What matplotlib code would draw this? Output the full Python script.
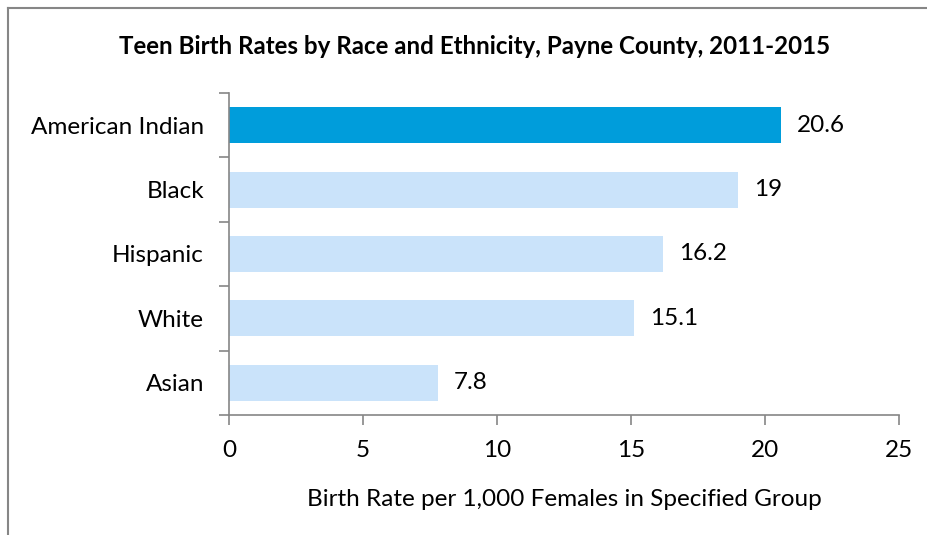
import matplotlib.pyplot as plt
from matplotlib.lines import Line2D

# ---------------------------------------------------------------------------
# Data
# ---------------------------------------------------------------------------

groups = ["American Indian", "Black", "Hispanic", "White", "Asian"]
rates = [20.6, 19, 16.2, 15.1, 7.8]
rate_labels = ["20.6", "19", "16.2", "15.1", "7.8"]
x_ticks = [0, 5, 10, 15, 20, 25]

HIGHLIGHT = "#009DDB"
LIGHT = "#CAE3FA"
AXIS_GRAY = "#868686"
FS = 17.5

plt.rcParams["font.family"] = ["Lato", "DejaVu Sans"]

# ---------------------------------------------------------------------------
# Plot
# ---------------------------------------------------------------------------

fig = plt.figure(figsize=(9.28, 5.35), dpi=100)
ax = fig.add_axes([229 / 928, 1 - 415 / 535, 670 / 928, 322 / 535])

ypos = list(range(len(groups)))
colors = [HIGHLIGHT if i == 0 else LIGHT for i in ypos]
ax.barh(ypos, rates, height=0.56, color=colors)

for y, v, lab in zip(ypos, rates, rate_labels):
    ax.text(v + 0.6, y, lab, va="center", ha="left", fontsize=FS, color="black")

ax.set_xlim(0, 25)
ax.set_ylim(len(groups) - 0.5, -0.5)
ax.set_xticks(x_ticks)
ax.set_xticklabels([str(t) for t in x_ticks], fontsize=FS)
ax.set_yticks(ypos)
ax.set_yticklabels(groups, fontsize=FS)
ax.set_yticks([i - 0.5 for i in range(len(groups) + 1)], minor=True)

ax.tick_params(axis="y", which="major", length=0, pad=18)
ax.tick_params(axis="y", which="minor", length=7, color=AXIS_GRAY, width=1.2)
ax.tick_params(axis="x", length=7, color=AXIS_GRAY, width=1.2, pad=11)

for side in ["top", "right"]:
    ax.spines[side].set_visible(False)
for side in ["left", "bottom"]:
    ax.spines[side].set_color(AXIS_GRAY)
    ax.spines[side].set_linewidth(1.2)

ax.set_xlabel("Birth Rate per 1,000 Females in Specified Group", fontsize=FS, labelpad=20)

fig.text(475 / 928, 1 - 47 / 535,
         "Teen Birth Rates by Race and Ethnicity, Payne County, 2011-2015",
         ha="center", va="center", fontsize=17.4, fontweight="bold")

# chart frame (only left and top edges fall inside the crop)
fig.add_artist(Line2D([8 / 928, 8 / 928], [0, 1 - 8 / 535], transform=fig.transFigure,
                      color=AXIS_GRAY, lw=1.5))
fig.add_artist(Line2D([8 / 928, 1], [1 - 8 / 535, 1 - 8 / 535], transform=fig.transFigure,
                      color=AXIS_GRAY, lw=1.5))

fig.savefig("out.png", dpi=100)
